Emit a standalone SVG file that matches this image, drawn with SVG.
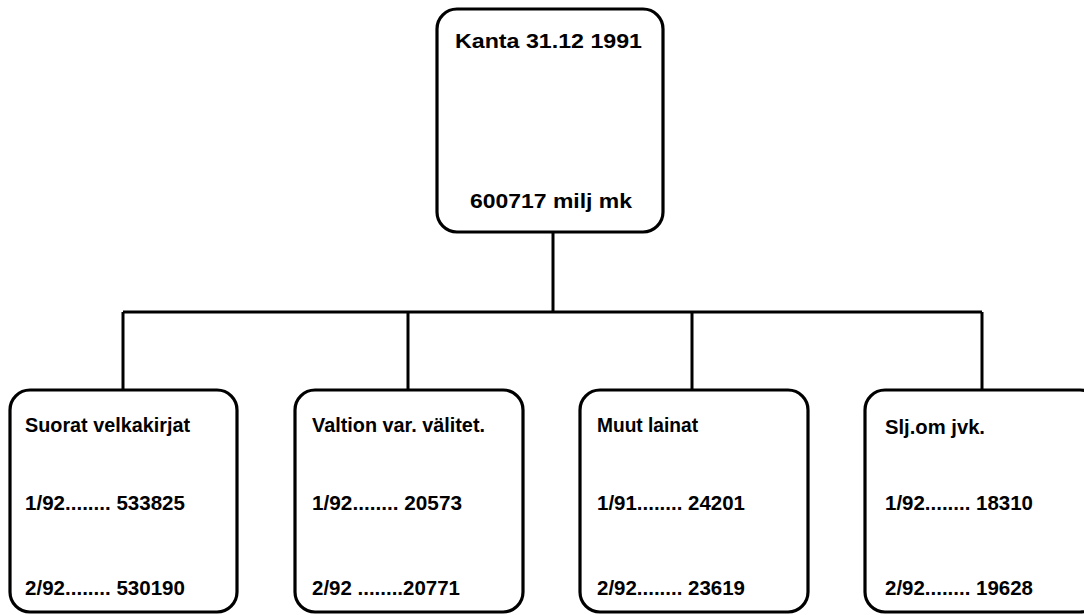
<svg xmlns="http://www.w3.org/2000/svg" width="1084" height="615" viewBox="0 0 1084 615">
<style>
.box{fill:#fff;stroke:#000;stroke-width:3.2}
.ln{fill:none;stroke:#000;stroke-width:3}
text{font-family:"Liberation Sans",Arial,sans-serif;font-weight:bold;font-size:20px;fill:#000}
</style>
<rect width="1084" height="615" fill="#fff"/>
<g id="connectors">
<path class="ln" d="M553 232 V312 M123 312 H982 M123 312 V390 M408 312 V390 M692 312 V390 M982 312 V390"/>
</g>
<g id="root">
<rect class="box" x="437" y="9" width="226" height="223" rx="20"/>
<text x="455" y="48" textLength="187" lengthAdjust="spacingAndGlyphs">Kanta 31.12 1991</text>
<text x="470" y="208" textLength="162" lengthAdjust="spacingAndGlyphs">600717 milj mk</text>
</g>
<g id="n1">
<rect class="box" x="10" y="390" width="227" height="222" rx="20"/>
<text x="25" y="432" textLength="165" lengthAdjust="spacingAndGlyphs">Suorat velkakirjat</text>
<text x="25" y="510" textLength="160" lengthAdjust="spacingAndGlyphs">1/92........ 533825</text>
<text x="25" y="595" textLength="160" lengthAdjust="spacingAndGlyphs">2/92........ 530190</text>
</g>
<g id="n2">
<rect class="box" x="295" y="390" width="228" height="222" rx="20"/>
<text x="312" y="432" textLength="173" lengthAdjust="spacingAndGlyphs">Valtion var. välitet.</text>
<text x="312" y="510" textLength="150" lengthAdjust="spacingAndGlyphs">1/92........ 20573</text>
<text x="312" y="595" textLength="148" lengthAdjust="spacingAndGlyphs">2/92 ........20771</text>
</g>
<g id="n3">
<rect class="box" x="580" y="390" width="228" height="222" rx="20"/>
<text x="597" y="432" textLength="101" lengthAdjust="spacingAndGlyphs">Muut lainat</text>
<text x="597" y="510" textLength="148" lengthAdjust="spacingAndGlyphs">1/91........ 24201</text>
<text x="597" y="595" textLength="148" lengthAdjust="spacingAndGlyphs">2/92........ 23619</text>
</g>
<g id="n4">
<rect class="box" x="865" y="390" width="235" height="222" rx="20"/>
<text x="885" y="434" textLength="100" lengthAdjust="spacingAndGlyphs">Slj.om jvk.</text>
<text x="885" y="510" textLength="148" lengthAdjust="spacingAndGlyphs">1/92........ 18310</text>
<text x="885" y="595" textLength="148" lengthAdjust="spacingAndGlyphs">2/92........ 19628</text>
</g>
</svg>
